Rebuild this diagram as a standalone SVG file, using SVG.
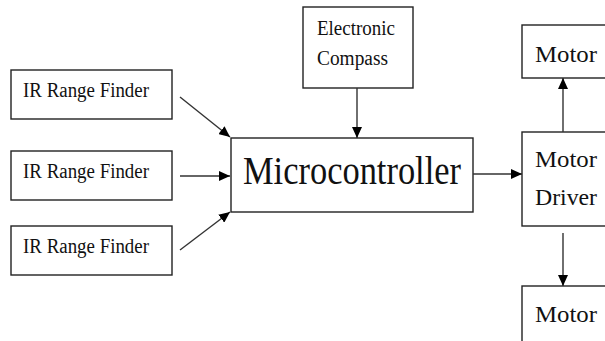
<svg xmlns="http://www.w3.org/2000/svg" width="605" height="341" viewBox="0 0 605 341">
<defs>
<style>
.box{fill:#fff;stroke:#222;stroke-width:1.4}
.t{font-family:"Liberation Serif","Times New Roman",serif;fill:#111}
.c{stroke:#333;stroke-width:1.4;fill:none;marker-end:url(#ah)}
</style>
<marker id="ah" markerUnits="userSpaceOnUse" markerWidth="12" markerHeight="10" refX="11" refY="5" orient="auto">
<path d="M0,0 L11,5 L0,10 Z" fill="#000"/>
</marker>
</defs>
<rect width="605" height="341" fill="#fff"/>
<g id="ir1"><rect class="box" x="11" y="70" width="161" height="49"/><text class="t" x="23" y="97" font-size="20" textLength="126" lengthAdjust="spacingAndGlyphs">IR Range Finder</text></g>
<g id="ir2"><rect class="box" x="11" y="151" width="161" height="49"/><text class="t" x="23" y="178" font-size="20" textLength="126" lengthAdjust="spacingAndGlyphs">IR Range Finder</text></g>
<g id="ir3"><rect class="box" x="11" y="226" width="161" height="49"/><text class="t" x="23" y="253" font-size="20" textLength="126" lengthAdjust="spacingAndGlyphs">IR Range Finder</text></g>
<g id="compass"><rect class="box" x="303" y="7" width="110" height="81"/><text class="t" x="317" y="35" font-size="20" textLength="78" lengthAdjust="spacingAndGlyphs">Electronic</text><text class="t" x="317" y="65" font-size="20" textLength="71" lengthAdjust="spacingAndGlyphs">Compass</text></g>
<g id="micro"><rect class="box" x="231" y="138" width="242" height="74"/><text class="t" x="243" y="184" font-size="40" textLength="218" lengthAdjust="spacingAndGlyphs">Microcontroller</text></g>
<g id="motor1"><rect class="box" x="522" y="25" width="100" height="53"/><text class="t" x="535" y="62" font-size="24" textLength="62" lengthAdjust="spacingAndGlyphs">Motor</text></g>
<g id="driver"><rect class="box" x="522" y="132" width="100" height="94"/><text class="t" x="535" y="167" font-size="24" textLength="62" lengthAdjust="spacingAndGlyphs">Motor</text><text class="t" x="535" y="205" font-size="24" textLength="62" lengthAdjust="spacingAndGlyphs">Driver</text></g>
<g id="motor2"><rect class="box" x="522" y="286" width="100" height="70"/><text class="t" x="535" y="322" font-size="24" textLength="62" lengthAdjust="spacingAndGlyphs">Motor</text></g>
<g id="connectors">
<line class="c" x1="180" y1="97" x2="230" y2="137"/>
<line class="c" x1="180" y1="176" x2="230" y2="176"/>
<line class="c" x1="180" y1="250" x2="230" y2="212"/>
<line class="c" x1="357" y1="88" x2="357" y2="138"/>
<line class="c" x1="473" y1="174" x2="522" y2="174"/>
<line class="c" x1="563" y1="132" x2="563" y2="78"/>
<line class="c" x1="563" y1="233" x2="563" y2="286"/>
</g>
</svg>
